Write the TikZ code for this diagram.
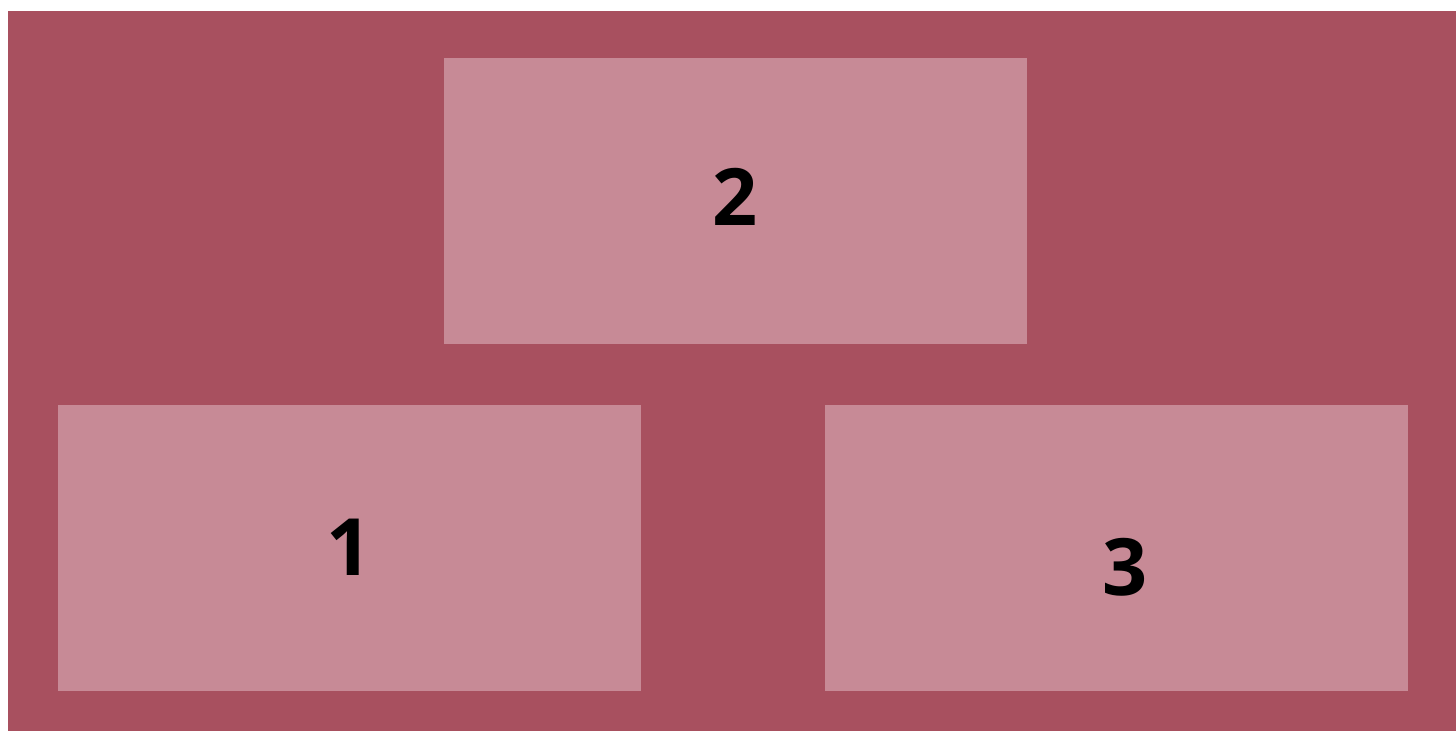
\documentclass[tikz,border=0pt]{standalone}
\usepackage{fontspec}
\setmainfont{Open Sans}
\definecolor{wine}{HTML}{A8505F}
\definecolor{rosebox}{HTML}{C78A96}
\tikzset{
  panel/.style={fill=rosebox},
  num/.style={font=\fontsize{45}{45}\selectfont\bfseries, text=black, inner sep=0pt}
}
\begin{document}
\begin{tikzpicture}[x=0.02cm, y=-0.02cm]
    \useasboundingbox (0, 0) rectangle (1456, 731);
    \fill[wine] (8, 11) rectangle (1456, 731);

    \fill[panel] (444, 58) rectangle (1027, 344);
    \fill[panel] (58, 405) rectangle (641, 691);
    \fill[panel] (825, 405) rectangle (1408, 691);

    \node[num] (two) at (735, 197) {2};
    \node[num] (one) at (349, 547) {1};
    \node[num] (three) at (1125, 567) {3};
\end{tikzpicture}
\end{document}
